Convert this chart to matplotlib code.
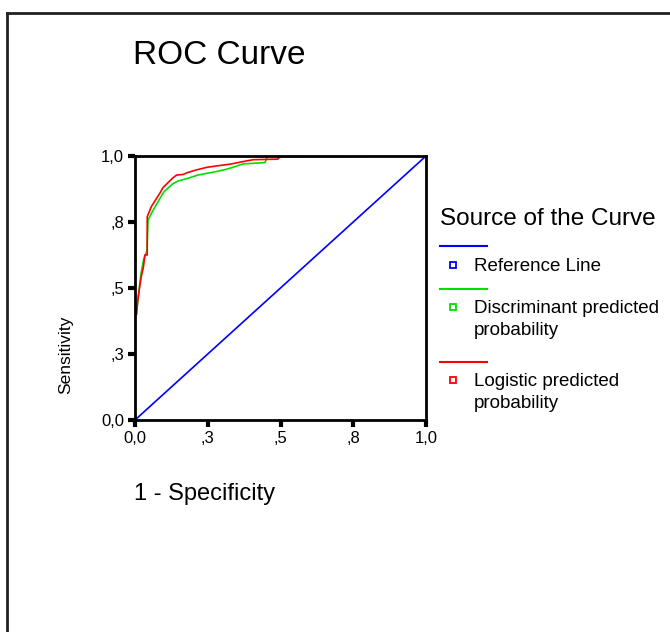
import matplotlib.pyplot as plt
from matplotlib.lines import Line2D

plt.rcParams["font.family"] = ["Liberation Sans", "DejaVu Sans"]

# ROC curve points (1 - specificity, sensitivity)
ref_x = [0.0, 1.0]
ref_y = [0.0, 1.0]

disc_fpr = [0.005, 0.009, 0.014, 0.020, 0.030, 0.041, 0.045, 0.060, 0.086, 0.100,
            0.130, 0.147, 0.180, 0.217, 0.250, 0.275, 0.315, 0.344, 0.371, 0.447,
            0.455, 1.0]
disc_tpr = [0.400, 0.447, 0.490, 0.550, 0.610, 0.640, 0.758, 0.790, 0.840, 0.865,
            0.895, 0.905, 0.915, 0.928, 0.935, 0.940, 0.950, 0.960, 0.970, 0.975,
            1.0, 1.0]

logit_fpr = [0.005, 0.009, 0.014, 0.021, 0.029, 0.034, 0.042, 0.042, 0.057, 0.086,
             0.096, 0.130, 0.143, 0.165, 0.180, 0.210, 0.246, 0.285, 0.332, 0.367,
             0.406, 0.490, 0.500, 1.0]
logit_tpr = [0.400, 0.447, 0.490, 0.540, 0.580, 0.625, 0.625, 0.770, 0.810, 0.860,
             0.880, 0.917, 0.928, 0.930, 0.937, 0.947, 0.957, 0.963, 0.970, 0.978,
             0.986, 0.988, 0.998, 1.0]

tick_pos = [0.0, 0.25, 0.5, 0.75, 1.0]
tick_labels = ["0,0", ",3", ",5", ",8", "1,0"]

series = [
    ("Reference Line", "#0000ff", ref_x, ref_y),
    ("Discriminant predicted\nprobability", "#00e000", disc_fpr, disc_tpr),
    ("Logistic predicted\nprobability", "#ff0000", logit_fpr, logit_tpr),
]

W, H = 670, 632
fig = plt.figure(figsize=(W / 100, H / 100), dpi=100)


def fx(px):
    return px / W


def fy(py):
    return 1 - py / H


ax = fig.add_axes([fx(135), fy(420), fx(426) - fx(135), fy(156) - fy(420)])
for name, color, xs, ys in series:
    ax.plot(xs, ys, color=color, lw=1.2, zorder=2)

ax.set_xlim(0, 1)
ax.set_ylim(0, 1)
ax.set_xticks(tick_pos, tick_labels)
ax.set_yticks(tick_pos, tick_labels)
ax.tick_params(direction="out", length=5, width=3, labelsize=12, pad=3)
for sp in ax.spines.values():
    sp.set_linewidth(2)
    sp.set_zorder(3)

fig.text(fx(133), fy(56), "ROC Curve", fontsize=24, va="center", ha="left")
fig.text(fx(134), fy(494), "1 - Specificity", fontsize=17, va="center", ha="left")
fig.text(fx(66), fy(355), "Sensitivity", fontsize=12.5, rotation=90, va="center", ha="center")

# legend block, drawn in figure pixels
fig.text(fx(440), fy(219), "Source of the Curve", fontsize=17.5, va="center", ha="left")
line_rows = [246, 289, 362]
label_rows = [267, 309, 382]
for (name, color, _, _), ly, ty in zip(series, line_rows, label_rows):
    fig.add_artist(Line2D([fx(440), fx(487)], [fy(ly), fy(ly)], color=color, lw=1.5))
    fig.add_artist(Line2D([fx(453)], [fy(ty - 2)], marker="s", ms=5, mfc="white",
                          mec=color, mew=1.3, ls="none"))
    fig.text(fx(474), fy(ty - 9), name, fontsize=13.5, va="top", ha="left",
             linespacing=1.35)

# outer frame (left and top edges)
fig.add_artist(Line2D([fx(7), fx(7)], [fy(13), 0], color="#222222", lw=2))
fig.add_artist(Line2D([fx(7), 1], [fy(13), fy(13)], color="#222222", lw=2))

fig.savefig("out.png", dpi=100)
